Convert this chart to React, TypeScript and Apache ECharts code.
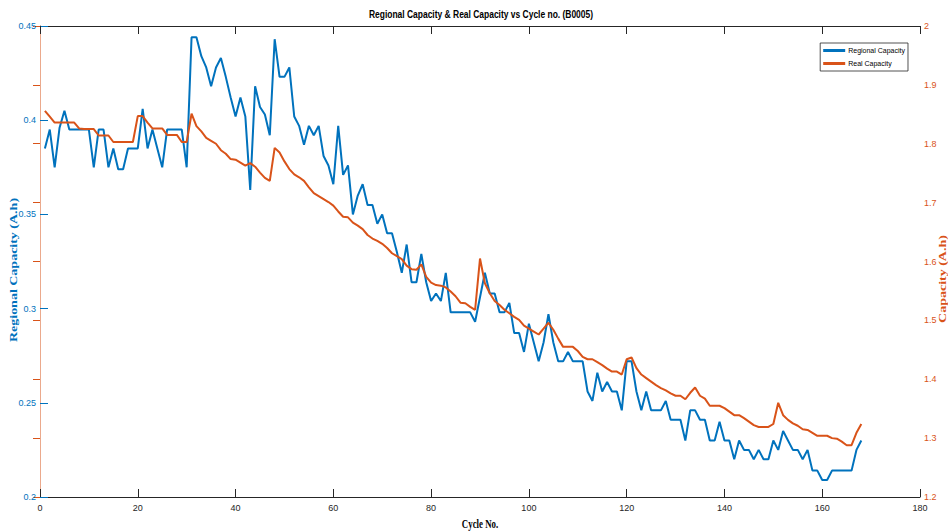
import React, { useEffect, useRef } from "react";
import * as echarts from "echarts";

// Regional capacity (A.h), cycles 1..168
const regionalCapacity: number[] = [
  0.385, 0.395, 0.375, 0.396, 0.405, 0.395, 0.395, 0.395, 0.395, 0.395,
  0.375, 0.395, 0.395, 0.375, 0.385, 0.374, 0.374, 0.385, 0.385, 0.385,
  0.406, 0.385, 0.395, 0.385, 0.375, 0.395, 0.395, 0.395, 0.395, 0.375,
  0.444, 0.444, 0.434, 0.428, 0.418, 0.428, 0.433, 0.423, 0.412, 0.402,
  0.412, 0.402, 0.363, 0.418, 0.407, 0.403, 0.392, 0.443, 0.423, 0.423,
  0.428, 0.402, 0.397, 0.387, 0.397, 0.392, 0.397, 0.381, 0.376, 0.366,
  0.397, 0.371, 0.376, 0.350, 0.360, 0.366, 0.355, 0.355, 0.345, 0.350,
  0.340, 0.340, 0.330, 0.319, 0.334, 0.314, 0.314, 0.329, 0.314, 0.304,
  0.308, 0.304, 0.319, 0.298, 0.298, 0.298, 0.298, 0.298, 0.293, 0.306,
  0.319, 0.308, 0.308, 0.298, 0.298, 0.303, 0.287, 0.287, 0.277, 0.292,
  0.282, 0.272, 0.282, 0.297, 0.282, 0.272, 0.272, 0.277, 0.272, 0.272,
  0.272, 0.256, 0.251, 0.266, 0.256, 0.261, 0.256, 0.256, 0.246, 0.272,
  0.272, 0.256, 0.246, 0.256, 0.246, 0.246, 0.246, 0.251, 0.241, 0.241,
  0.241, 0.230, 0.246, 0.246, 0.241, 0.241, 0.230, 0.230, 0.240, 0.230,
  0.230, 0.220, 0.230, 0.225, 0.225, 0.220, 0.225, 0.220, 0.220, 0.230,
  0.225, 0.235, 0.230, 0.225, 0.225, 0.220, 0.225, 0.214, 0.214, 0.209,
  0.209, 0.214, 0.214, 0.214, 0.214, 0.214, 0.225, 0.230,
];

// Real capacity (A.h), cycles 1..168
const realCapacity: number[] = [
  1.856, 1.846, 1.836, 1.836, 1.836, 1.836, 1.836, 1.826, 1.825, 1.825,
  1.825, 1.814, 1.814, 1.814, 1.803, 1.803, 1.803, 1.803, 1.803, 1.847,
  1.847, 1.836, 1.826, 1.826, 1.826, 1.815, 1.815, 1.815, 1.803, 1.803,
  1.851, 1.830, 1.821, 1.810, 1.805, 1.800, 1.789, 1.783, 1.774, 1.773,
  1.768, 1.763, 1.767, 1.761, 1.751, 1.742, 1.737, 1.793, 1.785, 1.770,
  1.757, 1.748, 1.743, 1.737, 1.726, 1.716, 1.711, 1.706, 1.701, 1.695,
  1.685, 1.676, 1.675, 1.666, 1.661, 1.655, 1.645, 1.639, 1.635, 1.630,
  1.623, 1.614, 1.609, 1.604, 1.593, 1.587, 1.586, 1.595, 1.574, 1.564,
  1.560, 1.559, 1.556, 1.549, 1.541, 1.530, 1.529, 1.523, 1.518, 1.605,
  1.563, 1.546, 1.533, 1.526, 1.518, 1.512, 1.506, 1.501, 1.491, 1.486,
  1.481, 1.476, 1.486, 1.496, 1.484, 1.469, 1.455, 1.455, 1.455, 1.448,
  1.438, 1.434, 1.434, 1.429, 1.424, 1.418, 1.413, 1.413, 1.408, 1.434,
  1.437, 1.419, 1.408, 1.402, 1.396, 1.390, 1.385, 1.381, 1.376, 1.372,
  1.372, 1.366, 1.377, 1.386, 1.372, 1.367, 1.355, 1.355, 1.355, 1.351,
  1.345, 1.339, 1.339, 1.334, 1.328, 1.322, 1.319, 1.319, 1.319, 1.324,
  1.360, 1.339, 1.331, 1.325, 1.321, 1.315, 1.314, 1.309, 1.304, 1.304,
  1.304, 1.300, 1.299, 1.294, 1.288, 1.288, 1.309, 1.324,
];

const xTicks = { min: 0, max: 180, interval: 20 };
const leftTicks = { min: 0.2, max: 0.45, interval: 0.05 };
const rightTicks = { min: 1.2, max: 2, interval: 0.1 };

const BLUE = "#0072BD";
const ORANGE = "#D95319";
const AXIS = "#262626";
const NARROW = "'Liberation Sans Narrow', 'Liberation Sans', Arial, sans-serif";
const SERIF = "'Liberation Serif', 'Times New Roman', serif";

export default function App() {
  const ref = useRef<HTMLDivElement>(null);

  useEffect(() => {
    if (!ref.current) return;
    const chart = echarts.init(ref.current, undefined, { renderer: "svg" });
    const blueData = regionalCapacity.map((v, i) => [i + 1, v]);
    const orangeData = realCapacity.map((v, i) => [i + 1, v]);
    const fmt = (v: number) => String(parseFloat(v.toFixed(2)));

    chart.setOption({
      animation: false,
      backgroundColor: "#ffffff",
      grid: { left: 40, right: 28, top: 26, bottom: 34, containLabel: false },
      xAxis: [
        {
          type: "value",
          position: "bottom",
          ...xTicks,
          axisLine: { show: true, lineStyle: { color: AXIS, width: 1 } },
          axisTick: { show: true, inside: true, length: 8, lineStyle: { color: AXIS } },
          axisLabel: { color: AXIS, fontSize: 9, fontFamily: NARROW, margin: 6 },
          splitLine: { show: false },
        },
        {
          type: "value",
          position: "top",
          ...xTicks,
          axisLine: { show: true, lineStyle: { color: AXIS, width: 1 } },
          axisTick: { show: true, inside: true, length: 8, lineStyle: { color: AXIS } },
          axisLabel: { show: false },
          splitLine: { show: false },
        },
      ],
      yAxis: [
        {
          type: "value",
          position: "left",
          ...leftTicks,
          axisLine: { show: true, lineStyle: { color: BLUE, width: 1 } },
          axisTick: { show: true, inside: true, length: 8, lineStyle: { color: BLUE } },
          axisLabel: { color: BLUE, fontSize: 9, fontFamily: NARROW, margin: 4, formatter: fmt },
          splitLine: { show: false },
        },
        {
          type: "value",
          position: "right",
          ...rightTicks,
          axisLine: { show: true, lineStyle: { color: "#EBA98C", width: 1 } },
          axisTick: { show: true, inside: true, length: 7, lineStyle: { color: ORANGE } },
          axisLabel: { color: ORANGE, fontSize: 9, fontFamily: NARROW, margin: 4, formatter: fmt },
          splitLine: { show: false },
        },
      ],
      legend: {
        orient: "vertical",
        right: 40,
        top: 43,
        itemWidth: 22,
        itemHeight: 3,
        itemGap: 6,
        icon: "rect",
        padding: [4, 3, 4, 3],
        backgroundColor: "#ffffff",
        borderColor: AXIS,
        borderWidth: 0.8,
        textStyle: { fontSize: 7, fontFamily: NARROW, color: "#000", padding: [0, 0, 0, -2] },
        data: ["Regional Capacity", "Real Capacity"],
      },
      series: [
        {
          name: "Regional Capacity",
          type: "line",
          xAxisIndex: 0,
          yAxisIndex: 0,
          data: blueData,
          showSymbol: false,
          color: BLUE,
          lineStyle: { color: BLUE, width: 2 },
          z: 2,
        },
        {
          name: "Real Capacity",
          type: "line",
          xAxisIndex: 0,
          yAxisIndex: 1,
          data: orangeData,
          showSymbol: false,
          color: ORANGE,
          lineStyle: { color: ORANGE, width: 2 },
          z: 3,
        },
      ],
      graphic: [
        {
          type: "text",
          x: 481,
          y: 14,
          scaleX: 0.77,
          style: {
            text: "Regional Capacity & Real Capacity vs Cycle no. (B0005)",
            fill: "#000",
            font: "bold 11px 'Liberation Sans', Arial, sans-serif",
            textAlign: "center",
            textVerticalAlign: "middle",
          },
        },
        {
          type: "text",
          x: 480,
          y: 523,
          scaleX: 0.68,
          style: {
            text: "Cycle No.",
            fill: "#000",
            font: `bold 13px ${SERIF}`,
            textAlign: "center",
            textVerticalAlign: "middle",
          },
        },
        {
          type: "text",
          x: 14,
          y: 270,
          rotation: Math.PI / 2,
          scaleY: 0.75,
          style: {
            text: "Regional Capacity (A.h)",
            fill: BLUE,
            font: `bold 14px ${SERIF}`,
            textAlign: "center",
            textVerticalAlign: "middle",
          },
        },
        {
          type: "text",
          x: 943,
          y: 279,
          rotation: Math.PI / 2,
          scaleY: 0.75,
          style: {
            text: "Capacity (A.h)",
            fill: ORANGE,
            font: `bold 14px ${SERIF}`,
            textAlign: "center",
            textVerticalAlign: "middle",
          },
        },
      ],
    });

    return () => chart.dispose();
  }, []);

  return (
    <div
      ref={ref}
      style={{ position: "fixed", left: 0, top: 0, width: 948, height: 531, background: "#fff" }}
    />
  );
}
